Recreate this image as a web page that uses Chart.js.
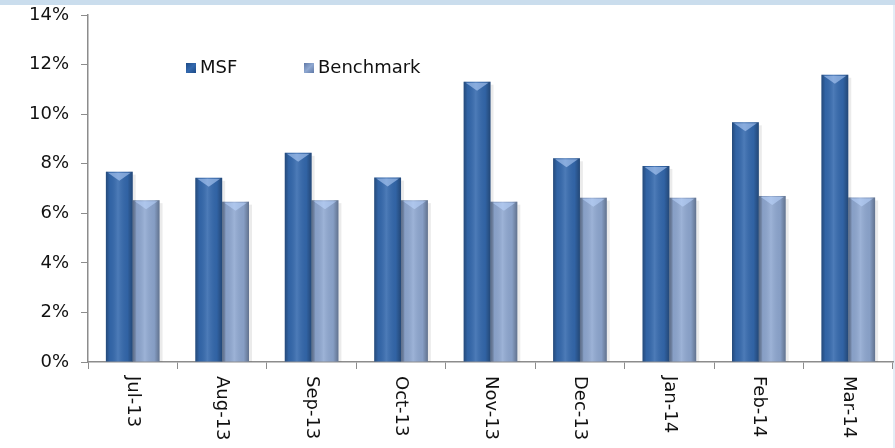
<!DOCTYPE html>
<html>
<head>
<meta charset="utf-8">
<script src="https://cdn.jsdelivr.net/npm/chart.js@4.4.0/dist/chart.umd.min.js"></script>
<style>
  html, body { margin: 0; padding: 0; background: #fff; }
  #wrap { width: 895px; height: 448px; }
</style>
</head>
<body>
<div id="wrap"><canvas id="myChart" width="895" height="448"></canvas></div>
<script>
const months = ['Jul-13', 'Aug-13', 'Sep-13', 'Oct-13', 'Nov-13', 'Dec-13', 'Jan-14', 'Feb-14', 'Mar-14'];
const msfReturns = [7.68, 7.43, 8.44, 7.44, 11.31, 8.22, 7.91, 9.67, 11.59];
const benchmarkReturns = [6.53, 6.47, 6.53, 6.53, 6.47, 6.63, 6.63, 6.70, 6.64];
const yMin = 0;
const yMax = 14;
const yStep = 2;

const axisColor = '#8c8c8c';
const labelFont = '18px "DejaVu Sans", Verdana, sans-serif';

// light band across the top + faint right edge
const frame = {
  id: 'frame',
  beforeDraw(chart) {
    const ctx = chart.ctx;
    ctx.save();
    ctx.fillStyle = '#cadded';
    ctx.fillRect(0, 0, chart.width, 5);
    ctx.fillStyle = '#e3edf6';
    ctx.fillRect(chart.width - 2, 5, 2, chart.height - 5);
    ctx.restore();
  }
};

// bevel look on each bar: dark edges, light centre, light chevron on top
const barShade = {
  id: 'barShade',
  afterDatasetsDraw(chart) {
    const ctx = chart.ctx;
    ctx.save();
    chart.data.datasets.forEach((ds, di) => {
      chart.getDatasetMeta(di).data.forEach(el => {
        const left = el.x - el.width / 2;
        const right = el.x + el.width / 2;
        const top = el.y;
        const h = el.base - el.y;
        let g = ctx.createLinearGradient(left, 0, right, 0);
        g.addColorStop(0, 'rgba(0,0,0,0.30)');
        g.addColorStop(0.15, 'rgba(0,0,0,0.05)');
        g.addColorStop(0.45, 'rgba(255,255,255,0.12)');
        g.addColorStop(0.8, 'rgba(0,0,0,0.06)');
        g.addColorStop(1, 'rgba(0,0,0,0.32)');
        ctx.fillStyle = g;
        ctx.fillRect(left, top, el.width, h);
        // right side drop shadow
        ctx.fillStyle = 'rgba(0,0,0,0.08)';
        ctx.fillRect(right, top + 3, 3, h - 3);
        // top chevron
        ctx.beginPath();
        ctx.moveTo(left + 2, top + 1);
        ctx.lineTo(right - 2, top + 1);
        ctx.lineTo(el.x, top + 9);
        ctx.closePath();
        ctx.fillStyle = 'rgba(190,215,255,0.55)';
        ctx.fill();
      });
    });
    ctx.restore();
  }
};

// month labels rotated clockwise, reading top to bottom
const monthLabels = {
  id: 'monthLabels',
  afterDraw(chart) {
    const ctx = chart.ctx;
    const xs = chart.scales.x;
    ctx.save();
    ctx.font = labelFont;
    ctx.fillStyle = '#111';
    ctx.textAlign = 'left';
    ctx.textBaseline = 'middle';
    chart.data.labels.forEach((lab, i) => {
      ctx.save();
      ctx.translate(xs.getPixelForTick(i), xs.top + 14);
      ctx.rotate(Math.PI / 2);
      ctx.fillText(lab, 0, 0);
      ctx.restore();
    });
    ctx.restore();
  }
};

// legend sitting inside the plot area
const innerLegend = {
  id: 'innerLegend',
  afterDraw(chart) {
    const ctx = chart.ctx;
    const xPos = [186, 304];
    const yMid = 68;
    ctx.save();
    ctx.font = labelFont;
    ctx.textBaseline = 'middle';
    ctx.textAlign = 'left';
    chart.data.datasets.forEach((ds, i) => {
      const x = xPos[i];
      let g = ctx.createLinearGradient(x, yMid - 5, x + 10, yMid + 5);
      g.addColorStop(0, ds.edgeColor);
      g.addColorStop(0.5, ds.backgroundColor);
      g.addColorStop(1, ds.edgeColor);
      ctx.fillStyle = g;
      ctx.fillRect(x, yMid - 5, 10, 10);
      ctx.fillStyle = '#111';
      ctx.fillText(ds.label, x + 14, yMid);
    });
    ctx.restore();
  }
};

const ctx = document.getElementById('myChart');

new Chart(ctx, {
  type: 'bar',
  data: {
    labels: months,
    datasets: [
      { label: 'MSF', data: msfReturns, backgroundColor: '#3469ae', edgeColor: '#1d4a86', borderWidth: 0 },
      { label: 'Benchmark', data: benchmarkReturns, backgroundColor: '#8fa8d1', edgeColor: '#5f78a6', borderWidth: 0 }
    ]
  },
  options: {
    responsive: false,
    animation: false,
    devicePixelRatio: 1,
    categoryPercentage: 0.6,
    barPercentage: 1,
    layout: { padding: { top: 15, right: 2, left: 0, bottom: 0 } },
    plugins: {
      legend: { display: false },
      tooltip: { enabled: false }
    },
    scales: {
      x: {
        grid: { offset: true, drawOnChartArea: false, drawTicks: true, tickLength: 7, color: axisColor, lineWidth: 1 },
        border: { color: axisColor, width: 1.5 },
        ticks: { display: false },
        afterFit(scale) { scale.height = 86; }
      },
      y: {
        min: yMin,
        max: yMax,
        grid: { drawOnChartArea: false, drawTicks: true, tickLength: 7, color: axisColor },
        border: { color: axisColor, width: 1.5 },
        ticks: {
          stepSize: yStep,
          padding: 12,
          color: '#111',
          font: { family: '"DejaVu Sans", Verdana, sans-serif', size: 18 },
          callback: v => v + '%'
        },
        afterFit(scale) {
          scale.width = 88;
          scale.paddingTop = 0;
          scale.paddingBottom = 0;
        }
      }
    }
  },
  plugins: [frame, barShade, monthLabels, innerLegend]
});
</script>
</body>
</html>
